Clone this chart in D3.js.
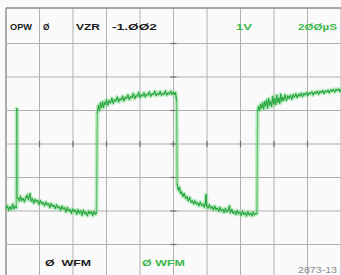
<!DOCTYPE html>
<html>
<head>
<meta charset="utf-8">
<script src="https://cdn.jsdelivr.net/npm/d3@7"></script>
<style>
  html, body { margin: 0; padding: 0; background: #fafafa; }
  svg { display: block; }
</style>
</head>
<body>
<svg width="341" height="275"></svg>
<script>
// readouts on the screen
var topLabels = ["OPW", "Ø", "VZR", "-1.ØØ2", "1V", "2ØØµS"];
var bottomLabels = ["Ø  WFM", "Ø WFM", "2873-13"];

// time axis: 200 µs/div, 10 div ; vertical 1 V/div, 8 div
var timeTicks = d3.range(0, 2001, 200);
var voltTicks = d3.range(-4, 5, 1);

// trace, [µs, V]
var lowA = [[0,-1.92],[8,-1.85],[16,-1.97],[24,-1.88],[32,-1.95],[40,-1.80],[48,-1.93],[56,-1.86],[62,-1.9],
  [64,1.06],[66,1.02],[68,-1.62],
  [74,-1.62],[80,-1.70],[86,-1.56],[94,-1.68],[102,-1.63],[110,-1.72],[118,-1.60],[126,-1.53],[134,-1.66],[142,-1.48],
  [150,-1.70],[158,-1.64],[166,-1.76],[174,-1.66],[182,-1.72],[190,-1.69],[198,-1.80],[206,-1.70],[214,-1.78],
  [222,-1.75],[230,-1.84],[238,-1.74],[246,-1.81],[254,-1.79],[262,-1.89],[270,-1.78],[278,-1.86],[286,-1.84],
  [294,-1.92],[302,-1.82],[310,-1.90],[318,-1.88],[326,-1.97],[334,-1.86],[342,-1.93],[350,-1.91],[358,-2.02],
  [366,-1.90],[374,-1.99],[382,-1.96],[390,-2.06],[398,-1.95],[406,-2.01],[414,-1.98],[422,-2.09],[430,-1.97],
  [438,-2.06],[446,-2.00],[454,-2.12],[462,-1.98],[470,-2.08],[478,-2.04],[486,-2.14],[494,-2.01],[502,-2.07],
  [510,-2.03],[518,-2.13],[526,-2.02],[534,-2.09],[540,-2.06]];
var highA = [[545,0.92],[552,1.15],[558,1.00],[564,1.22],[570,1.10],[576,1.26],[582,1.09],[588,1.24],[594,1.18],
  [600,1.32],[608,1.17],[616,1.29],[624,1.23],[632,1.36],[640,1.22],[648,1.31],[656,1.29],[664,1.40],[672,1.26],
  [680,1.34],[688,1.32],[696,1.42],[704,1.29],[712,1.39],[720,1.36],[728,1.46],[736,1.33],[744,1.41],[752,1.39],
  [760,1.50],[768,1.36],[776,1.44],[784,1.43],[792,1.53],[800,1.40],[808,1.46],[816,1.44],[824,1.52],[832,1.41],
  [840,1.48],[848,1.47],[856,1.55],[864,1.43],[872,1.49],[880,1.48],[888,1.57],[896,1.45],[904,1.50],[912,1.48],
  [920,1.56],[928,1.46],[936,1.51],[944,1.49],[952,1.58],[960,1.47],[968,1.52],[976,1.50],[984,1.57],[992,1.48],
  [1000,1.54],[1006,1.49],[1012,1.53],[1018,1.30]];
var lowB = [[1022,-1.20],[1026,-1.30],[1030,-1.38],[1036,-1.30],[1042,-1.47],[1048,-1.44],[1056,-1.56],[1064,-1.48],
  [1072,-1.61],[1080,-1.58],[1088,-1.69],[1096,-1.60],[1104,-1.73],[1112,-1.70],[1120,-1.78],[1128,-1.70],
  [1136,-1.79],[1144,-1.76],[1152,-1.84],[1160,-1.74],[1168,-1.83],[1176,-1.80],[1184,-1.88],[1190,-1.79],
  [1194,-1.52],[1198,-1.84],[1206,-1.91],[1214,-1.82],[1222,-1.91],[1230,-1.88],[1238,-1.96],[1246,-1.86],
  [1254,-1.95],[1262,-1.92],[1270,-2.00],[1278,-1.90],[1286,-1.99],[1294,-1.95],[1302,-2.04],[1310,-1.93],
  [1318,-2.02],[1326,-1.99],[1334,-1.85],[1340,-2.05],[1348,-1.96],[1356,-2.06],[1364,-2.02],[1372,-2.10],
  [1380,-1.99],[1388,-2.08],[1396,-2.04],[1404,-2.12],[1412,-2.01],[1420,-2.10],[1428,-2.06],[1436,-2.14],
  [1444,-2.03],[1452,-2.11],[1460,-2.07],[1468,-2.14],[1476,-2.04],[1484,-2.11],[1492,-2.07],[1498,-2.08]];
var highB = [[1502,0.98],[1508,1.12],[1514,1.00],[1520,1.18],[1526,1.08],[1532,1.23],[1538,1.05],[1544,1.26],
  [1550,1.14],[1556,1.31],[1562,1.08],[1568,1.35],[1574,1.17],[1580,1.27],[1586,1.12],[1592,1.41],[1598,1.20],
  [1604,1.35],[1610,1.18],[1616,1.45],[1622,1.24],[1628,1.37],[1634,1.22],[1640,1.48],[1646,1.28],[1652,1.39],
  [1658,1.31],[1666,1.46],[1674,1.30],[1682,1.43],[1690,1.37],[1698,1.45],[1706,1.34],[1714,1.47],[1722,1.40],
  [1730,1.49],[1738,1.39],[1746,1.48],[1754,1.44],[1762,1.51],[1770,1.42],[1778,1.50],[1786,1.47],[1794,1.53],
  [1802,1.45],[1810,1.52],[1818,1.50],[1826,1.55],[1834,1.47],[1842,1.54],[1850,1.52],[1858,1.57],[1866,1.49],
  [1874,1.56],[1882,1.54],[1890,1.59],[1898,1.51],[1906,1.58],[1914,1.56],[1922,1.60],[1930,1.53],[1938,1.61],
  [1946,1.58],[1954,1.62],[1962,1.55],[1970,1.63],[1978,1.60],[1986,1.64],[1994,1.57],[2000,1.62]];

var trace = lowA.concat(highA, lowB, highB);

var svg = d3.select("svg");

var x = d3.scaleLinear().domain([0, 2000]).range([6, 341]);
var y = d3.scaleLinear().domain([-4, 4]).range([278, 10]);

// graticule
var grid = svg.append("g").attr("class", "grid");

grid.selectAll("line.v")
  .data(timeTicks).enter().append("line")
  .attr("class", "v")
  .attr("x1", function(d) { return x(d); })
  .attr("x2", function(d) { return x(d); })
  .attr("y1", 8).attr("y2", 275)
  .style("stroke", function(d) { return d === 0 ? "#8a8a8a" : "#b0b0b0"; })
  .style("stroke-width", function(d) { return d === 0 ? 1.4 : 1; });

grid.selectAll("line.h")
  .data(voltTicks.filter(function(d) { return d < 4; })).enter().append("line")
  .attr("class", "h")
  .attr("x1", 6).attr("x2", 341)
  .attr("y1", function(d) { return y(d); })
  .attr("y2", function(d) { return y(d); })
  .style("stroke", "#b0b0b0")
  .style("stroke-width", 1);

// top frame
grid.append("line")
  .attr("x1", 6).attr("x2", 341).attr("y1", 8).attr("y2", 8)
  .style("stroke", "#8a8a8a").style("stroke-width", 1.4);

// little marks where the centre lines cross the graticule
grid.selectAll("line.tx")
  .data(timeTicks.slice(1, -1)).enter().append("line")
  .attr("class", "tx")
  .attr("x1", function(d) { return x(d); })
  .attr("x2", function(d) { return x(d); })
  .attr("y1", y(0) - 3).attr("y2", y(0) + 3)
  .style("stroke", "#6e6e6e").style("stroke-width", 1.2);

grid.selectAll("line.ty")
  .data(voltTicks.slice(1, -1)).enter().append("line")
  .attr("class", "ty")
  .attr("x1", x(1000) - 3).attr("x2", x(1000) + 3)
  .attr("y1", function(d) { return y(d); })
  .attr("y2", function(d) { return y(d); })
  .style("stroke", "#6e6e6e").style("stroke-width", 1.2);

// trace: soft glow under a thin core, fast edges drawn faint
var line = d3.line()
  .x(function(d) { return x(d[0]); })
  .y(function(d) { return y(d[1]); });

svg.append("path")
  .datum(trace)
  .attr("d", line)
  .style("fill", "none")
  .style("stroke", "#7fd98a")
  .style("stroke-width", 4.2)
  .style("stroke-opacity", 0.5)
  .style("stroke-linejoin", "round");

var pairs = d3.pairs(trace);
svg.append("g").selectAll("line")
  .data(pairs).enter().append("line")
  .attr("x1", function(p) { return x(p[0][0]); })
  .attr("y1", function(p) { return y(p[0][1]); })
  .attr("x2", function(p) { return x(p[1][0]); })
  .attr("y2", function(p) { return y(p[1][1]); })
  .style("stroke", "#26a63e")
  .style("stroke-width", 1.2)
  .style("stroke-linecap", "round")
  .style("stroke-opacity", function(p) { return Math.abs(p[1][1] - p[0][1]) > 1 ? 0.6 : 1; });

// readouts
var black = "#1c1c1c", green = "#3bb84c";
var topPos = [
  { x: 10, len: 22, fill: black },
  { x: 43, len: 6.5, fill: black },
  { x: 76, len: 24, fill: black },
  { x: 112, len: 45, fill: black },
  { x: 236, len: 16, fill: green },
  { x: 298, len: 39, fill: green }
];
svg.append("g").selectAll("text")
  .data(topLabels).enter().append("text")
  .attr("x", function(d, i) { return topPos[i].x; })
  .attr("y", 30)
  .attr("textLength", function(d, i) { return topPos[i].len; })
  .attr("lengthAdjust", "spacingAndGlyphs")
  .style("font-family", "Liberation Sans, Arial, sans-serif")
  .style("font-weight", "bold")
  .style("font-size", "9.8px")
  .style("fill", function(d, i) { return topPos[i].fill; })
  .text(function(d) { return d; });

var bottomPos = [
  { x: 45, y: 266, len: 46, fill: black, size: 9.8, weight: "bold" },
  { x: 142, y: 266, len: 43, fill: green, size: 9.8, weight: "bold" },
  { x: 298, y: 273, len: 39, fill: "#8c8c8c", size: 8.5, weight: "normal" }
];
svg.append("g").selectAll("text")
  .data(bottomLabels).enter().append("text")
  .attr("x", function(d, i) { return bottomPos[i].x; })
  .attr("y", function(d, i) { return bottomPos[i].y; })
  .attr("textLength", function(d, i) { return bottomPos[i].len; })
  .attr("lengthAdjust", "spacingAndGlyphs")
  .style("font-family", "Liberation Sans, Arial, sans-serif")
  .style("font-weight", function(d, i) { return bottomPos[i].weight; })
  .style("font-size", function(d, i) { return bottomPos[i].size + "px"; })
  .style("white-space", "pre")
  .style("fill", function(d, i) { return bottomPos[i].fill; })
  .text(function(d) { return d; });
</script>
</body>
</html>
